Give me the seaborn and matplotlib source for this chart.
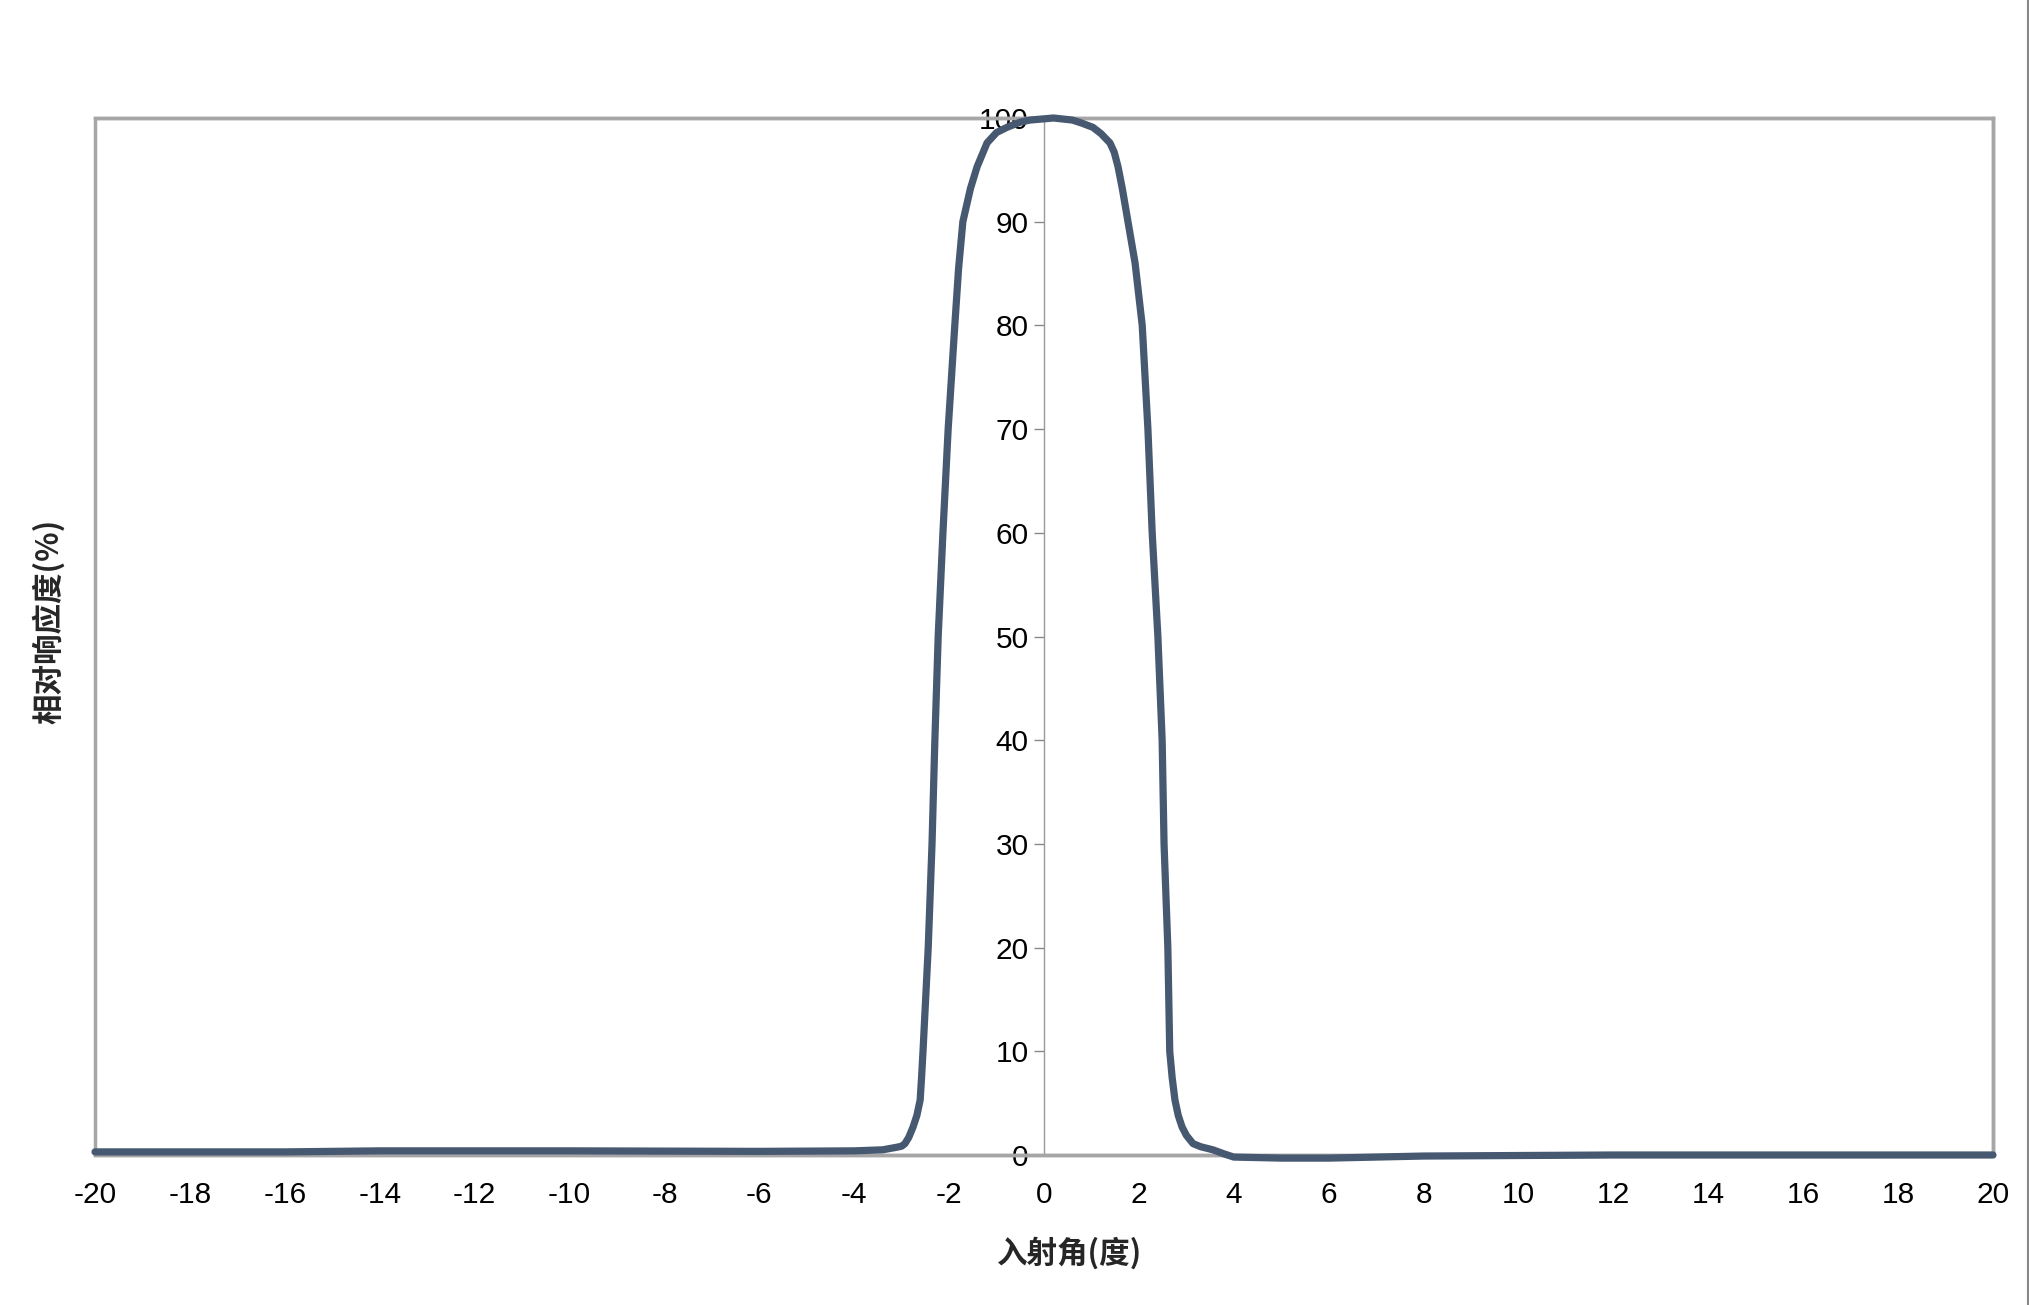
import numpy as np
import pandas as pd
import seaborn as sns
import matplotlib.pyplot as plt
from matplotlib.patches import Rectangle
from matplotlib.lines import Line2D

# angle of incidence (deg) and relative response (%)
angle = [-20, -16, -14, -10, -6, -4, -3.4, -3.1, -3.0, -2.93, -2.85, -2.76,
         -2.68, -2.61, -2.58, -2.55, -2.44, -2.36, -2.30, -2.23, -2.13, -2.02,
         -1.95, -1.88, -1.80, -1.71, -1.55, -1.41, -1.20, -1.0, -0.78, -0.5,
         -0.30, 0.20, 0.60, 0.8, 1.03, 1.2, 1.39, 1.48, 1.56, 1.65, 1.77,
         1.92, 2.07, 2.13, 2.19, 2.28, 2.40, 2.49, 2.53, 2.61, 2.65, 2.70,
         2.76, 2.83, 2.91, 3.0, 3.14, 3.3, 3.56, 3.8, 4.0, 5.0, 6.0, 8.0,
         12, 16, 20]
response = [0.3, 0.3, 0.4, 0.4, 0.35, 0.4, 0.5, 0.75, 0.85, 1.1, 1.7, 2.7,
            3.8, 5.3, 7.5, 10, 20, 30, 40, 50, 60, 70,
            75, 80, 85.5, 90, 93.2, 95.3, 97.6, 98.6, 99.1, 99.6,
            99.8, 100, 99.8, 99.5, 99.1, 98.5, 97.6, 96.7, 95.3, 93.2, 90,
            86, 80, 75, 70, 60, 50, 40, 30, 20, 10, 7.5,
            5.3, 3.8, 2.7, 1.9, 1.1, 0.8, 0.5, 0.1, -0.2, -0.3, -0.3, -0.1,
            0, 0, 0]

xticks = list(range(-20, 21, 2))
yticks = list(range(0, 101, 10))

data = pd.DataFrame({"angle": angle, "response": response})

sns.set_style("white")
plt.rcParams['font.family'] = ['Liberation Sans', 'Noto Sans CJK SC', 'DejaVu Sans']
plt.rcParams['axes.unicode_minus'] = False

fig = plt.figure(figsize=(20.29, 13.05), dpi=100)
ax = fig.add_axes([95 / 2029, 150 / 1305, 1898 / 2029, 1037 / 1305])

sns.lineplot(data=data, x="angle", y="response", ax=ax, color="#475871",
             linewidth=5.2, clip_on=False, zorder=5)

ax.set_xlim(-20, 20)
ax.set_ylim(0, 100)
ax.set_xticks(xticks)
ax.set_yticks(yticks)
ax.tick_params(axis="x", direction="out", length=7, width=1, color="#888888",
               labelsize=21.5, labelcolor="black", pad=12)
ax.tick_params(axis="y", direction="out", length=7, width=1, color="#888888",
               labelsize=21.5, labelcolor="black", pad=4, left=True)

# y axis sits at x = 0
ax.spines["left"].set_position(("data", 0))
ax.spines["left"].set_color("#999999")
ax.spines["left"].set_linewidth(1)
for s in ["top", "right", "bottom"]:
    ax.spines[s].set_color("#a6a6a6")
    ax.spines[s].set_linewidth(2.5)
ax.add_patch(Rectangle((0, 0), 1, 1, transform=ax.transAxes, fill=False,
                       edgecolor="#a6a6a6", linewidth=2.5, clip_on=False, zorder=1))

ax.set_xlabel("")
ax.set_ylabel("")
fig.text(1069 / 2029, 1 - 1253 / 1305, "入射角(度)", ha="center", va="center",
         fontsize=22, fontweight="bold", family=['Noto Sans CJK SC', 'DejaVu Sans'])
fig.text(49 / 2029, 1 - 621 / 1305, "相对响应度(%)", ha="center", va="center",
         rotation=90, fontsize=22, fontweight="bold",
         family=['Noto Sans CJK SC', 'DejaVu Sans'])

# thin border on the right edge of the image
fig.add_artist(Line2D([2027.5 / 2029] * 2, [0, 1], transform=fig.transFigure,
                      color="#888888", linewidth=1.5))

fig.savefig("out.png", dpi=100, facecolor="white")
